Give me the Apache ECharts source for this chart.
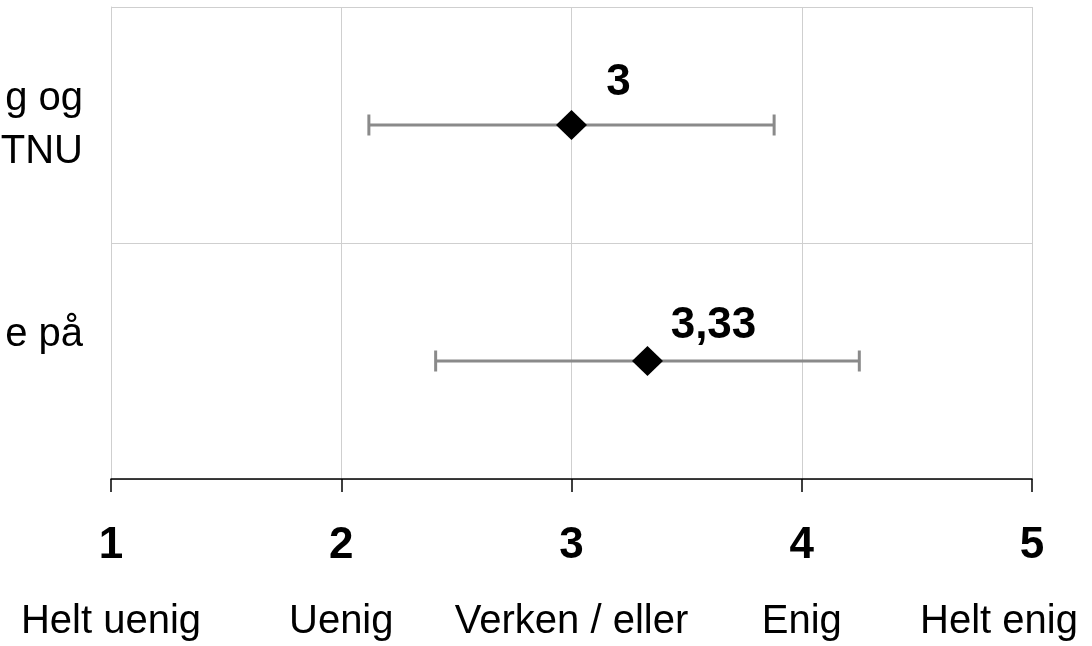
<!DOCTYPE html>
<html>
<head>
<meta charset="utf-8">
<script src="https://cdn.jsdelivr.net/npm/echarts@6/dist/echarts.min.js"></script>
<style>
  html, body { margin: 0; padding: 0; background: #ffffff; }
  #chart { width: 1092px; height: 646px; }
</style>
</head>
<body>
<div id="chart"></div>
<script>
// Survey items (labels run off the left edge of the canvas)
const categories = ['g og\nTNU', 'e på\n '];
// Mean answer and spread (low/high end of the bar) per item
const means = [3, 3.33];
const lows = [2.12, 2.41];
const highs = [3.88, 4.25];
// Likert scale ticks and their names
const scaleValues = [1, 2, 3, 4, 5];
const scaleNames = ['Helt uenig', 'Uenig', 'Verken / eller', 'Enig', 'Helt enig'];

const FONT = '"Liberation Sans", Arial, Helvetica, sans-serif';
const GRID_COLOR = '#cfcfcf';
const labelOffsets = [[47, -42], [66, -35]];

const fmtComma = v => String(v).replace('.', ',');

const chart = echarts.init(document.getElementById('chart'), null, { renderer: 'canvas' });

const option = {
  animation: false,
  backgroundColor: '#ffffff',
  grid: { left: 111, right: 60, top: 7, bottom: 167, containLabel: false, outerBoundsMode: 'none' },
  xAxis: {
    type: 'value',
    min: 1,
    max: 5,
    interval: 1,
    axisLine: { show: true, lineStyle: { color: '#000000', width: 1.5 } },
    axisTick: { show: true, inside: false, length: 13, lineStyle: { color: '#000000', width: 1.5 } },
    splitLine: { show: true, lineStyle: { color: GRID_COLOR, width: 1 } },
    axisLabel: {
      margin: 30,
      fontFamily: FONT,
      color: '#000000',
      formatter: v => {
        const i = scaleValues.indexOf(v);
        const style = i === scaleValues.length - 1 ? 'nEnd' : 'n';
        return '{b|' + fmtComma(v) + '}\n{' + style + '|' + scaleNames[i] + '}';
      },
      rich: {
        b: { fontFamily: FONT, fontSize: 44, fontWeight: 'bold', color: '#000000', lineHeight: 74 },
        n: { fontFamily: FONT, fontSize: 40, color: '#000000', lineHeight: 78 },
        nEnd: { fontFamily: FONT, fontSize: 40, color: '#000000', lineHeight: 78, padding: [0, 66, 0, 0] }
      }
    }
  },
  yAxis: {
    type: 'category',
    inverse: true,
    data: categories,
    boundaryGap: true,
    axisLine: { show: true, lineStyle: { color: GRID_COLOR, width: 1 } },
    axisTick: { show: false },
    splitLine: { show: true, lineStyle: { color: GRID_COLOR, width: 1 } },
    axisLabel: {
      margin: 28,
      align: 'right',
      fontFamily: FONT,
      fontSize: 40,
      lineHeight: 53,
      color: '#000000'
    }
  },
  series: [
    {
      name: 'spredning',
      type: 'custom',
      z: 2,
      encode: { x: [1, 2], y: 0 },
      data: categories.map((c, i) => [i, lows[i], highs[i]]),
      renderItem: (params, api) => {
        const row = api.value(0);
        const lo = api.coord([api.value(1), row]);
        const hi = api.coord([api.value(2), row]);
        const cap = 10.5;
        const style = { stroke: '#8a8a8a', lineWidth: 3 };
        return {
          type: 'group',
          children: [
            { type: 'line', shape: { x1: lo[0], y1: lo[1], x2: hi[0], y2: hi[1] }, style: style },
            { type: 'line', shape: { x1: lo[0], y1: lo[1] - cap, x2: lo[0], y2: lo[1] + cap }, style: style },
            { type: 'line', shape: { x1: hi[0], y1: hi[1] - cap, x2: hi[0], y2: hi[1] + cap }, style: style }
          ]
        };
      }
    },
    {
      name: 'gjennomsnitt',
      type: 'scatter',
      z: 5,
      symbol: 'diamond',
      symbolSize: [31, 30],
      itemStyle: { color: '#000000', opacity: 1 },
      label: {
        show: true,
        position: 'inside',
        fontFamily: FONT,
        fontSize: 44,
        fontWeight: 'bold',
        color: '#000000',
        opacity: 1,
        formatter: p => fmtComma(p.value[0])
      },
      data: means.map((m, i) => ({ value: [m, i], label: { offset: labelOffsets[i] } }))
    }
  ]
};

chart.setOption(option);
</script>
</body>
</html>
